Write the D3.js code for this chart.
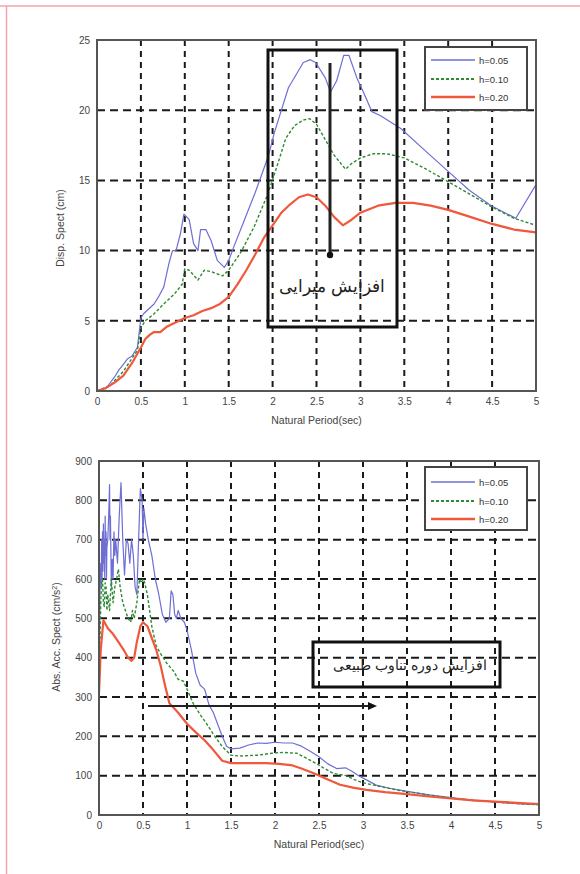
<!DOCTYPE html>
<html><head><meta charset="utf-8">
<script src="https://cdn.jsdelivr.net/npm/d3@7"></script>
<style>
html,body{margin:0;padding:0;background:#fff;}
svg text{font-family:"Liberation Sans",Arial,sans-serif;}
</style></head>
<body><svg id="c" width="580" height="874"></svg>
<script>
// ---------- DATA ----------
const xTicks = [0,0.5,1,1.5,2,2.5,3,3.5,4,4.5,5];
const xTickLabels = ["0","0.5","1","1.5","2","2.5","3","3.5","4","4.5","5"];
const dispTicks = [0,5,10,15,20,25];
const accTicks = [0,100,200,300,400,500,600,700,800,900];
const seriesNames = ["h=0.05","h=0.10","h=0.20"];

// Displacement spectrum (cm) : [period, value]
const dispH005 = [[0,0],[0.11,0.25],[0.2,1.0],[0.25,1.5],[0.3,1.9],[0.35,2.3],[0.4,2.5],[0.46,3.1],[0.5,5.2],[0.53,5.5],[0.65,6.2],[0.7,6.7],[0.76,7.4],[0.82,9.1],[0.86,10.0],[0.9,10.0],[0.95,11.2],[0.99,12.6],[1.05,12.2],[1.1,10.5],[1.15,10.0],[1.18,11.5],[1.24,11.5],[1.3,10.7],[1.37,9.3],[1.45,8.8],[1.5,9.3],[1.56,10.3],[1.68,12.2],[1.8,14.1],[1.95,16.7],[2.02,18.4],[2.18,21.6],[2.35,23.4],[2.43,23.6],[2.49,23.4],[2.6,22.3],[2.66,21.3],[2.73,22.1],[2.81,23.9],[2.87,23.9],[2.96,22.3],[3.04,21.2],[3.13,19.9],[3.23,19.6],[3.46,18.7],[3.74,17.1],[3.99,15.7],[4.24,14.3],[4.49,13.2],[4.77,12.3],[5.0,14.7]];
const dispH010 = [[0,0],[0.15,0.4],[0.3,1.4],[0.46,2.9],[0.5,4.5],[0.55,5.0],[0.65,5.5],[0.76,6.2],[0.88,6.9],[0.97,7.6],[1.0,8.7],[1.05,8.6],[1.15,7.9],[1.22,8.6],[1.3,8.5],[1.43,8.2],[1.5,8.6],[1.64,9.9],[1.79,11.7],[1.95,14.1],[2.06,16.2],[2.15,18.0],[2.25,18.9],[2.35,19.3],[2.42,19.4],[2.5,19.0],[2.6,17.9],[2.7,16.8],[2.83,15.8],[2.9,16.2],[3.0,16.6],[3.15,16.9],[3.3,16.9],[3.5,16.6],[3.75,15.8],[4.0,14.9],[4.25,14.0],[4.5,13.1],[4.75,12.3],[5.0,11.8]];
const dispH020 = [[0,0],[0.1,0.2],[0.2,0.6],[0.3,1.1],[0.4,2.0],[0.5,3.1],[0.55,3.7],[0.6,4.0],[0.65,4.2],[0.72,4.2],[0.8,4.6],[0.9,4.9],[1.0,5.2],[1.1,5.4],[1.2,5.7],[1.3,5.9],[1.4,6.2],[1.5,6.7],[1.6,7.6],[1.7,8.6],[1.8,9.7],[1.9,10.9],[2.0,11.8],[2.1,12.7],[2.2,13.3],[2.3,13.8],[2.4,14.0],[2.5,13.8],[2.6,13.2],[2.7,12.4],[2.8,11.8],[2.9,12.2],[3.0,12.7],[3.2,13.2],[3.4,13.4],[3.6,13.4],[3.8,13.2],[4.0,12.9],[4.25,12.4],[4.5,11.9],[4.75,11.5],[5.0,11.3]];

// Absolute acceleration spectrum (cm/s^2) : [period, value]
const accH005 = [[0,320],[0.01,560],[0.02,640],[0.025,580],[0.03,700],[0.035,600],[0.04,720],[0.045,620],[0.05,740],[0.055,640],[0.06,700],[0.065,600],[0.07,760],[0.075,660],[0.08,720],[0.085,600],[0.09,680],[0.1,700],[0.11,760],[0.12,840],[0.125,700],[0.13,760],[0.14,580],[0.15,650],[0.16,600],[0.17,720],[0.18,660],[0.19,700],[0.21,640],[0.23,760],[0.25,845],[0.27,700],[0.29,610],[0.31,700],[0.33,690],[0.35,640],[0.37,700],[0.39,660],[0.41,580],[0.43,560],[0.45,700],[0.47,830],[0.49,800],[0.5,700],[0.51,780],[0.53,740],[0.56,700],[0.6,660],[0.64,600],[0.68,560],[0.72,510],[0.76,490],[0.8,500],[0.82,570],[0.84,560],[0.86,510],[0.88,500],[0.9,520],[0.93,500],[0.97,490],[1.0,470],[1.05,420],[1.1,360],[1.15,330],[1.2,320],[1.25,280],[1.3,260],[1.35,230],[1.4,200],[1.45,175],[1.5,168],[1.6,170],[1.7,178],[1.8,183],[1.9,182],[2.0,185],[2.1,183],[2.2,183],[2.3,175],[2.4,162],[2.5,148],[2.6,130],[2.7,118],[2.8,120],[2.87,112],[2.95,100],[3.05,88],[3.15,76],[3.3,68],[3.5,60],[3.75,51],[4.0,44],[4.25,38],[4.5,33],[4.75,29],[5.0,26]];
const accH010 = [[0,320],[0.02,540],[0.03,590],[0.04,600],[0.05,540],[0.06,530],[0.07,590],[0.08,580],[0.09,520],[0.1,560],[0.12,520],[0.14,600],[0.16,540],[0.18,580],[0.2,600],[0.22,625],[0.24,580],[0.27,540],[0.3,520],[0.33,500],[0.36,490],[0.38,520],[0.4,500],[0.43,540],[0.46,600],[0.48,590],[0.5,600],[0.52,590],[0.55,560],[0.6,480],[0.65,430],[0.7,410],[0.77,386],[0.85,365],[0.9,345],[0.96,340],[1.0,320],[1.07,284],[1.15,255],[1.22,233],[1.3,205],[1.4,174],[1.5,152],[1.6,150],[1.8,152],[2.0,158],[2.1,159],[2.25,157],[2.35,145],[2.47,131],[2.55,120],[2.66,106],[2.81,100],[2.9,90],[3.0,82],[3.2,72],[3.4,63],[3.6,56],[3.8,49],[4.0,43],[4.25,37],[4.5,33],[4.75,29],[5.0,26]];
const accH020 = [[0,310],[0.02,420],[0.05,495],[0.1,475],[0.16,460],[0.22,440],[0.28,420],[0.33,400],[0.37,392],[0.4,400],[0.43,440],[0.47,480],[0.5,490],[0.55,480],[0.6,450],[0.65,420],[0.7,380],[0.75,330],[0.8,284],[0.9,260],[1.0,232],[1.1,210],[1.2,190],[1.3,165],[1.4,138],[1.5,132],[1.7,132],[1.9,132],[2.05,130],[2.2,126],[2.3,118],[2.44,106],[2.6,90],[2.74,77],[2.9,69],[3.04,64],[3.25,58],[3.5,53],[3.75,47],[4.0,42],[4.25,37],[4.5,34],[4.75,31],[5.0,28]];

const topNote = "افزایش میرایی";
const bottomNote = "افزایش دوره تناوب طبیعی";

// ---------- DRAW ----------
const svg = d3.select("#c");
const styles = [
  {color:"#6e6ed4", width:1.2, dash:null},
  {color:"#2f8a34", width:1.4, dash:"3,2"},
  {color:"#f0583c", width:2.2, dash:null}
];

// pink page border
svg.append("line").attr("x1",0).attr("x2",580).attr("y1",6).attr("y2",6).attr("stroke","#f5a3ab").attr("stroke-width",1.5);
svg.append("line").attr("x1",6.5).attr("x2",6.5).attr("y1",6).attr("y2",874).attr("stroke","#f5a3ab").attr("stroke-width",1.5);

function panel(cfg){
  const x = d3.scaleLinear().domain([0,5]).range([cfg.x0,cfg.x1]);
  const y = d3.scaleLinear().domain(cfg.ydom).range([cfg.y0,cfg.y1]);
  const g = svg.append("g");
  // grid
  g.append("g").selectAll("line").data(xTicks.slice(1,-1)).join("line")
    .attr("x1",d=>x(d)).attr("x2",d=>x(d)).attr("y1",cfg.y1).attr("y2",cfg.y0)
    .attr("stroke","#1a1a1a").attr("stroke-width",2).attr("stroke-dasharray","6,5");
  g.append("g").selectAll("line").data(cfg.yticks.slice(1,-1)).join("line")
    .attr("x1",cfg.x0).attr("x2",cfg.x1).attr("y1",d=>y(d)).attr("y2",d=>y(d))
    .attr("stroke","#1a1a1a").attr("stroke-width",2).attr("stroke-dasharray","8,5");
  // axes
  const ax = g.append("g").attr("transform",`translate(0,${cfg.y0})`)
    .call(d3.axisBottom(x).tickValues(xTicks).tickFormat((d,i)=>xTickLabels[i]).tickSize(0).tickPadding(7));
  ax.select(".domain").remove();
  ax.selectAll("text").attr("font-size",10).attr("fill","#444").attr("font-family","Liberation Sans, Arial, sans-serif");
  const ay = g.append("g").attr("transform",`translate(${cfg.x0},0)`)
    .call(d3.axisLeft(y).tickValues(cfg.yticks).tickSize(0).tickPadding(7));
  ay.select(".domain").remove();
  ay.selectAll("text").attr("font-size",10).attr("fill","#444").attr("font-family","Liberation Sans, Arial, sans-serif");
  // curves
  const line = d3.line().x(d=>x(d[0])).y(d=>y(d[1]));
  cfg.series.forEach((s,i)=>{
    g.append("path").datum(s).attr("d",line).attr("fill","none")
      .attr("stroke",styles[i].color).attr("stroke-width",styles[i].width)
      .attr("stroke-dasharray",styles[i].dash).attr("stroke-linejoin","round");
  });
  // frame
  g.append("rect").attr("x",cfg.x0).attr("y",cfg.y1).attr("width",cfg.x1-cfg.x0).attr("height",cfg.y0-cfg.y1)
    .attr("fill","none").attr("stroke","#555").attr("stroke-width",2);
  // labels
  g.append("text").attr("x",(cfg.x0+cfg.x1)/2).attr("y",cfg.y0+33).attr("text-anchor","middle")
    .attr("font-size",10.5).attr("fill","#444").text("Natural Period(sec)");
  const yl = g.append("text").attr("transform",`translate(${cfg.ylx},${cfg.yly}) rotate(-90)`)
    .attr("text-anchor","middle").attr("font-size",10.5).attr("fill","#444");
  yl.text(cfg.ylabel);
  if(cfg.sup){ yl.append("tspan").attr("baseline-shift","super").attr("font-size",7).text("2"); yl.append("tspan").text(")"); }
  // legend
  const L = cfg.legend;
  g.append("rect").attr("x",L.x).attr("y",L.y).attr("width",L.w).attr("height",L.h)
    .attr("fill","#fff").attr("stroke","#444").attr("stroke-width",2);
  seriesNames.forEach((n,i)=>{
    const yy = L.rows[i];
    g.append("line").attr("x1",L.x+6).attr("x2",L.x+50).attr("y1",yy).attr("y2",yy)
      .attr("stroke",styles[i].color).attr("stroke-width",styles[i].width+0.4).attr("stroke-dasharray",styles[i].dash);
    g.append("text").attr("x",L.x+54).attr("y",yy+3.5).attr("font-size",9.5).attr("fill","#333").text(n);
  });
  return {x,y,g};
}

const panelTop = panel({x0:97,x1:536,y0:391,y1:40,ydom:[0,25],yticks:dispTicks,
  series:[dispH005,dispH010,dispH020],ylabel:"Disp. Spect (cm)",ylx:64,yly:228,
  legend:{x:425,y:47,w:102,h:63,rows:[60,79,97]}});
const panelBot = panel({x0:99,x1:539,y0:815,y1:461,ydom:[0,900],yticks:accTicks,
  series:[accH005,accH010,accH020],ylabel:"Abs. Acc. Spect (cm/s",sup:true,ylx:60,yly:637,
  legend:{x:425,y:467,w:102,h:63,rows:[482,501,519]}});

// top annotation
svg.append("rect").attr("x",268).attr("y",50).attr("width",129).attr("height",277)
  .attr("fill","none").attr("stroke","#111").attr("stroke-width",3);
svg.append("line").attr("x1",330).attr("x2",330).attr("y1",63).attr("y2",254).attr("stroke","#222").attr("stroke-width",3);
svg.append("circle").attr("cx",330).attr("cy",255).attr("r",3.2).attr("fill","#111");
svg.append("text").attr("x",332).attr("y",292).attr("text-anchor","middle").attr("direction","rtl")
  .attr("font-family","DejaVu Sans, sans-serif").attr("font-size",17).attr("fill","#222").text(topNote);

// bottom annotation
svg.append("rect").attr("x",313).attr("y",642).attr("width",187).attr("height",45)
  .attr("fill","none").attr("stroke","#111").attr("stroke-width",3);
svg.append("text").attr("x",410).attr("y",670).attr("text-anchor","middle").attr("direction","rtl")
  .attr("font-family","DejaVu Sans, sans-serif").attr("font-size",14).attr("fill","#222").text(bottomNote);
svg.append("line").attr("x1",148).attr("x2",370).attr("y1",706).attr("y2",706).attr("stroke","#222").attr("stroke-width",2);
svg.append("path").attr("d","M368,702 L377,706 L368,710 Z").attr("fill","#111");
</script></body></html>
